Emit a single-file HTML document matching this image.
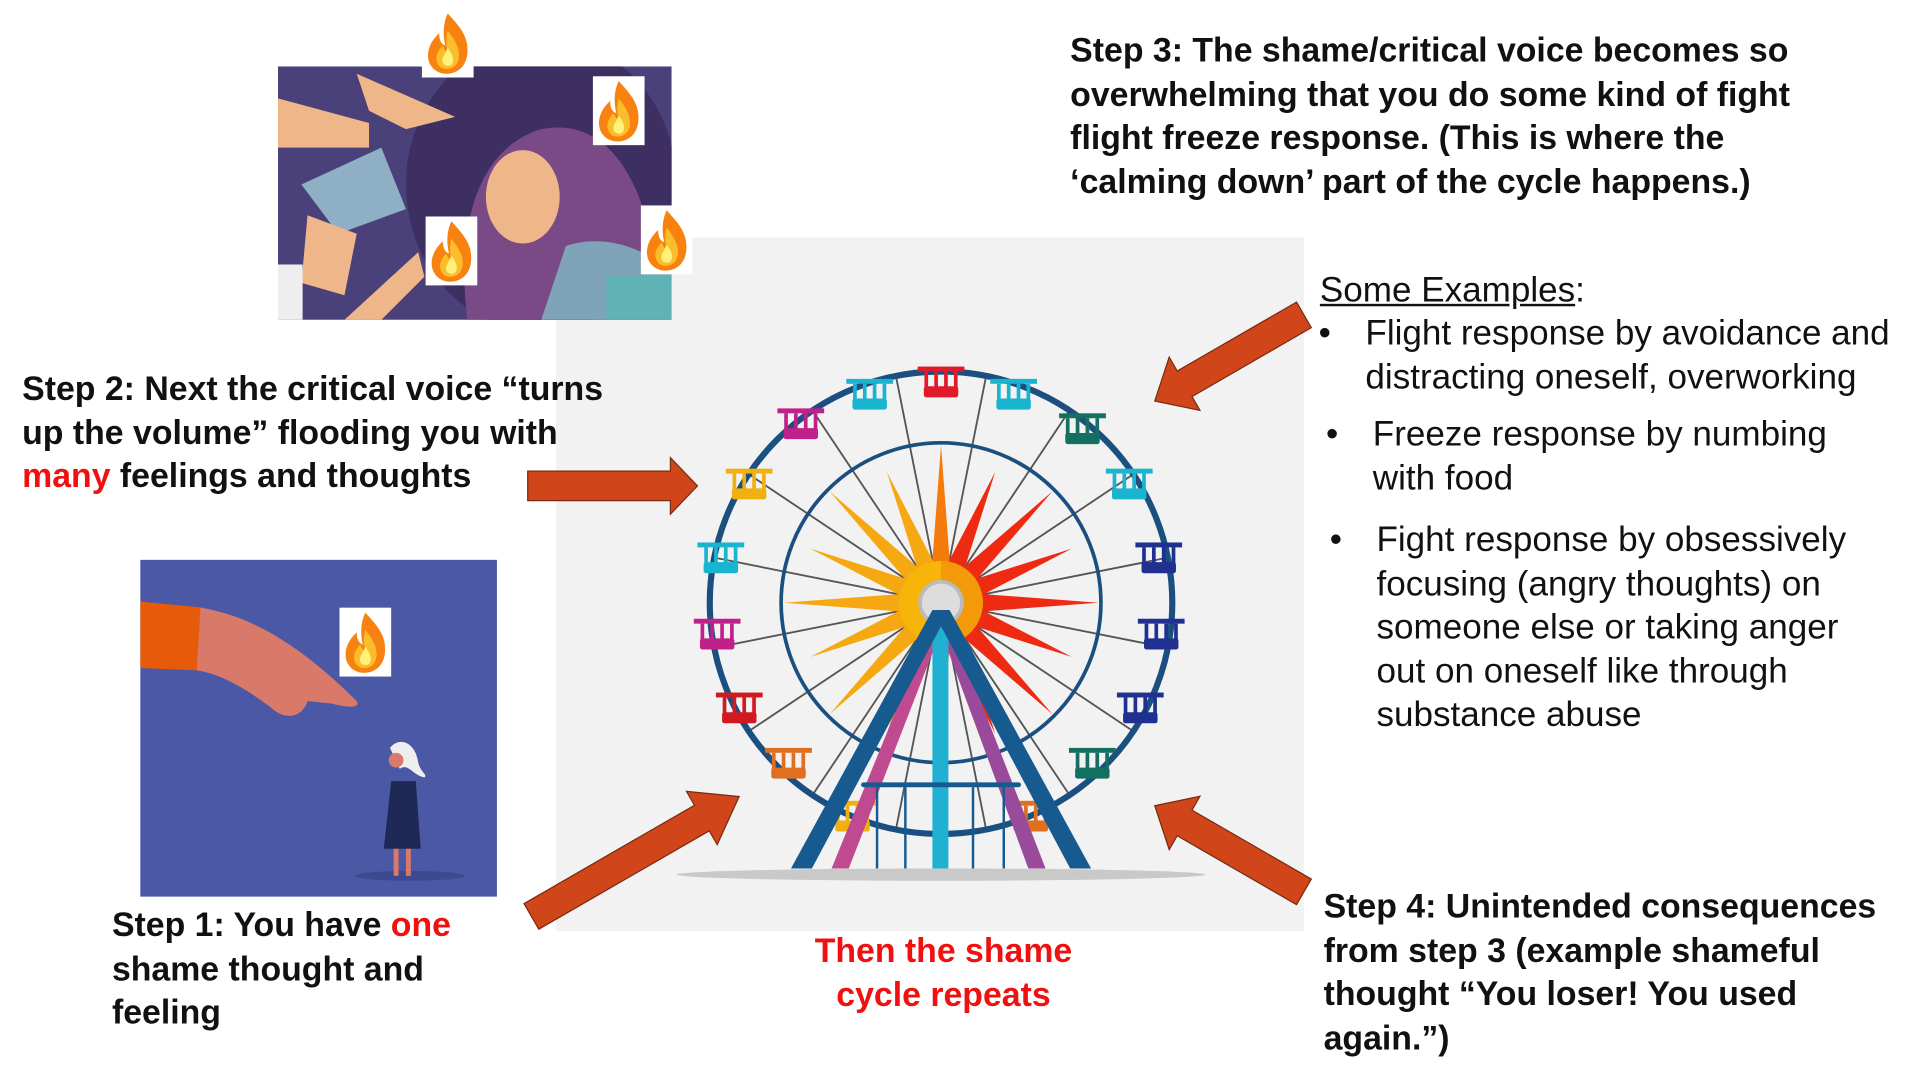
<!DOCTYPE html>
<html><head><meta charset="utf-8">
<style>
html,body{margin:0;padding:0;background:#fff;overflow:hidden}
#c{position:absolute;left:0;top:0;width:1560px;height:877px;transform:scale(1.2301);transform-origin:0 0;font-family:"Liberation Sans",sans-serif;color:#111}
.t{position:absolute;font-size:27.5px;line-height:35.5px;white-space:nowrap}
.b{font-weight:bold}
.r{color:#f01010}
.n{font-size:28.5px}
svg{position:absolute;left:0;top:0}
</style></head><body>
<div id="c">
<svg width="1560" height="877" viewBox="0 0 1560 877">
<defs>
<g id="fl">
<rect x="0" y="0" width="42" height="56" fill="#fff"/>
<path d="M21 4 C30 14 38 22 37 36 C36 48 28 53 20 53 C11 53 4 46 5 36 C6 28 11 23 14 20 C14 26 16 29 19 30 C17 22 17 12 21 4Z" fill="#f7820f"/>
<path d="M21 18 C27 26 31 32 30 40 C29 47 24 49 20 49 C14 49 11 44 12 38 C13 34 16 31 17 30 C18 34 20 35 21 36 C20 30 19 24 21 18Z" fill="#fbbd2c"/>
<path d="M21 32 C25 37 26 41 25 44 C24 47 21 47 19 46 C16 45 16 41 18 38Z" fill="#fff27a"/>
</g>
<clipPath id="c1"><rect x="226" y="54" width="320" height="206"/></clipPath>
<clipPath id="c2"><rect x="114" y="455" width="290" height="274"/></clipPath>
</defs>
<rect x="452" y="193" width="608" height="564" fill="#f2f2f2"/>
<g clip-path="url(#c1)">
<rect x="226" y="54" width="320" height="206" fill="#4a407a"/>
<ellipse cx="440" cy="150" rx="110" ry="120" fill="#3e2f62"/>
<path d="M380 260 C370 180 390 120 440 105 C490 95 520 140 530 200 L540 260Z" fill="#7a4a86"/>
<path d="M440 260 L460 200 C490 190 520 200 546 220 L546 260Z" fill="#7fa3b8"/>
<ellipse cx="425" cy="160" rx="30" ry="38" fill="#efb68a"/>
<path d="M226 80 L300 100 L300 120 L226 120Z" fill="#efb68a"/>
<path d="M290 60 L370 95 L330 105 L300 90Z" fill="#efb68a"/>
<path d="M245 150 L310 120 L330 170 L275 190Z" fill="#8fb0c4"/>
<path d="M250 175 L290 190 L280 240 L245 230Z" fill="#efb68a"/>
<path d="M280 260 L340 205 L345 225 L310 260Z" fill="#efb68a"/>
<rect x="226" y="215" width="20" height="45" fill="#eee"/>
<rect x="493" y="224" width="53" height="36" fill="#5fb3b5"/>
</g>
<use href="#fl" x="343" y="7"/>
<use href="#fl" x="482" y="62"/>
<use href="#fl" x="346" y="176"/>
<use href="#fl" x="521" y="167"/>
<g clip-path="url(#c2)">
<rect x="114" y="455" width="290" height="274" fill="#4a58a6"/>
<path d="M114 489 L165 494 L160 545 L114 543Z" fill="#e65a0a"/>
<path d="M163 494 C200 500 240 520 290 570 C293 575 285 576 270 572 L250 570 C245 585 230 585 220 575 C200 560 180 548 160 545Z" fill="#d9796a"/>
<ellipse cx="333" cy="712" rx="45" ry="4" fill="#3e4a90"/>
<path d="M318 635 L338 635 L342 690 L312 690Z" fill="#1e2a55"/>
<rect x="320" y="690" width="4" height="22" fill="#d9796a"/><rect x="330" y="690" width="4" height="22" fill="#d9796a"/>
<path d="M317 608 C325 598 338 604 340 620 C342 628 348 630 345 632 C335 630 332 620 325 625Z" fill="#eee"/>
<circle cx="322" cy="618" r="6" fill="#d9796a"/>
</g>
<use href="#fl" x="276" y="494"/>
<ellipse cx="765" cy="711" rx="215" ry="5" fill="#c9c9c9"/>
<g id="wheel"></g>
<g fill="#d0461a" stroke="#7a2a10" stroke-width="1">
<polygon points="429,383 545,383 545,372 567,395 545,418 545,407 429,407"/>
<polygon points="0,-12 -112,-12 -112,-25 -140,0 -112,25 -112,12 0,12" transform="translate(1060,256) rotate(-30)"/>
<polygon points="0,-12 -112,-12 -112,-25 -140,0 -112,25 -112,12 0,12" transform="translate(1060,725) rotate(30)"/>
<polygon points="0,-12 -160,-12 -160,-25 -195,0 -160,25 -160,12 0,12" transform="translate(432,745) rotate(150)"/>
</g>
</svg>
<div class="t b" style="left:870px;top:23px">Step 3: The shame/critical voice becomes so<br>overwhelming that you do some kind of fight<br>flight freeze response. (This is where the<br>‘calming down’ part of the cycle happens.)</div>
<div class="t b" style="left:18px;top:298px">Step 2: Next the critical voice “turns<br>up the volume” flooding you with<br><span class="r">many</span> feelings and thoughts</div>
<div class="t b" style="left:91px;top:734px">Step 1: You have <span class="r">one</span><br>shame thought and<br>feeling</div>
<div class="t b r" style="left:600px;width:334px;text-align:center;top:755px">Then the shame<br>cycle repeats</div>
<div class="t b" style="left:1076px;top:719px">Step 4: Unintended consequences<br>from step 3 (example shameful<br>thought “You loser! You used<br>again.”)</div>
<div class="t n" style="left:1073px;top:219px"><u>Some Examples</u>:</div>
<div class="t n" style="left:1072px;top:254px">•</div>
<div class="t n" style="left:1110px;top:254px">Flight response by avoidance and<br>distracting oneself, overworking</div>
<div class="t n" style="left:1078px;top:336px">•</div>
<div class="t n" style="left:1116px;top:336px">Freeze response by numbing<br>with food</div>
<div class="t n" style="left:1081px;top:422px">•</div>
<div class="t n" style="left:1119px;top:422px">Fight response by obsessively<br>focusing (angry thoughts) on<br>someone else or taking anger<br>out on oneself like through<br>substance abuse</div>
</div>
<script>
(function(){
var ns="http://www.w3.org/2000/svg",g=document.getElementById("wheel");
function el(t,a){var e=document.createElementNS(ns,t);for(var k in a)e.setAttribute(k,a[k]);g.appendChild(e);return e;}
var cx=765,cy=490,R=188,r2=130;
for(var i=0;i<16;i++){var a=i*Math.PI/8+Math.PI/16;el("line",{x1:cx,y1:cy,x2:cx+R*Math.cos(a),y2:cy+R*Math.sin(a),stroke:"#555","stroke-width":1.5});}
el("circle",{cx:cx,cy:cy,r:R,fill:"none",stroke:"#1b4f80","stroke-width":5});
el("circle",{cx:cx,cy:cy,r:r2,fill:"none",stroke:"#1b4f80","stroke-width":3});
for(var i=0;i<16;i++){var a=i*Math.PI/8-Math.PI/2,L=(i%2?115:128);
 var cs=Math.cos(a);var col=cs>0.3?"#ef2a12":(cs>-0.2?"#f47a0c":"#f6a812");
 el("polygon",{points:(cx+30*Math.cos(a-0.25))+","+(cy+30*Math.sin(a-0.25))+" "+(cx+L*Math.cos(a))+","+(cy+L*Math.sin(a))+" "+(cx+30*Math.cos(a+0.25))+","+(cy+30*Math.sin(a+0.25)),fill:col});}
el("circle",{cx:cx,cy:cy,r:34,fill:"#f7b409"});
el("path",{d:"M"+cx+" "+(cy-34)+" A34 34 0 0 1 "+cx+" "+(cy+34)+"Z",fill:"#f39a0a"});
el("circle",{cx:cx,cy:cy,r:17,fill:"#ddd",stroke:"#bbb","stroke-width":3});
var pos=[[765,310],[707,320],[651,344],[609,393],[586,453],[583,515],[601,575],[641,620],[824,320],[880,348],[918,393],[942,453],[944,515],[927,575],[888,620],[693,663],[838,663]];
var pc=["#e01a2a","#19b4cf","#c0208a","#f0b010","#19b4cf","#c0208a","#d01a20","#e07020","#19b4cf","#137060","#19b4cf","#1f3090","#1f3090","#1f3090","#137060","#f0b010","#e07020"];
for(var i=0;i<pos.length;i++){var x=pos[i][0],y=pos[i][1],c=pc[i];
 el("rect",{x:x-19,y:y-12,width:38,height:4,fill:c});
 for(var k=-12;k<=12;k+=8)el("rect",{x:x+k-1.5,y:y-8,width:3,height:14,fill:c});
 el("rect",{x:x-14,y:y+4,width:28,height:9,rx:2,fill:c});}
el("polygon",{points:"760,500 770,500 690,706 676,706",fill:"#c04a90"});
el("polygon",{points:"760,500 770,500 850,706 836,706",fill:"#9a4a9a"});
el("rect",{x:758,y:500,width:13,height:206,fill:"#1fb0d2"});
el("polygon",{points:"758,496 772,496 660,706 643,706",fill:"#175a90"});
el("polygon",{points:"758,496 772,496 887,706 870,706",fill:"#175a90"});
el("rect",{x:700,y:636,width:130,height:4,rx:2,fill:"#175a90"});
[712,735,790,815].forEach(function(x){el("rect",{x:x,y:640,width:2,height:66,fill:"#175a90"});});
})();
</script>
</body></html>
